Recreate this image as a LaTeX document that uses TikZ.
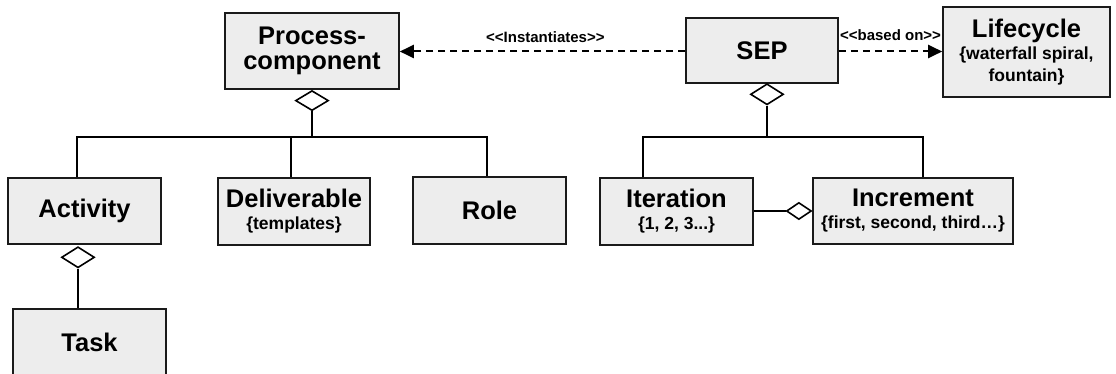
\documentclass[tikz,border=0pt]{standalone}
\usepackage{fontspec}
\setmainfont{Liberation Sans}
\usetikzlibrary{arrows.meta,shapes.geometric}
\definecolor{boxfill}{HTML}{EDEDED}
\definecolor{edge}{HTML}{1A1A1A}
\newcommand\ttl[1]{{\fontsize{25.5}{26}\selectfont #1}}
% keep the doubled angle brackets from turning into guillemets
\newcommand\lguil{<\kern0pt<}
\newcommand\rguil{>\kern0pt>}
\begin{document}
\begin{tikzpicture}[x=1pt,y=-1pt,
  box/.style={draw=edge, line width=1.6pt, fill=boxfill, inner sep=0pt,
    align=center, font=\fontsize{17.5}{22}\selectfont\bfseries},
  conn/.style={draw=black, line width=2pt},
  dep/.style={draw=black, line width=2pt, dash pattern=on 7pt off 5pt,
    -{Triangle[length=14pt,width=13pt]}},
  agg/.style={diamond, draw=black, fill=white, line width=1.6pt, inner sep=0pt,
    minimum width=33pt, minimum height=20pt},
  lbl/.style={font=\fontsize{15}{16}\selectfont\bfseries, inner sep=0pt}]
\useasboundingbox (0,0) rectangle (1116,374);

% classes
\node[box, minimum width=174pt, minimum height=76pt,
  font=\fontsize{25.5}{25.5}\selectfont\bfseries] (pc) at (312,51) {Process-\\component};
\node[box, minimum width=152pt, minimum height=65pt] (sep) at (762,50.5) {\ttl{SEP}};
\node[box, minimum width=167pt, minimum height=90pt] (life) at (1026.5,52)
  {\ttl{Lifecycle}\\\{waterfall spiral,\\fountain\}};
\node[box, minimum width=153pt, minimum height=66pt] (act) at (84.5,211) {\ttl{Activity}};
\node[box, minimum width=152pt, minimum height=67pt] (del) at (294,211.5)
  {\ttl{Deliverable}\\\{templates\}};
\node[box, minimum width=153pt, minimum height=67pt] (role) at (489.5,210.5) {\ttl{Role}};
\node[box, minimum width=153pt, minimum height=66pt] (task) at (89.5,342) {\ttl{Task}};
\node[box, minimum width=153pt, minimum height=67pt] (iter) at (676.5,211.5)
  {\ttl{Iteration}\\\{1, 2, 3...\}};
\node[box, minimum width=200pt, minimum height=66pt] (incr) at (913,211)
  {\ttl{Increment}\\\{first, second, third\ldots\}};

% aggregation diamonds
\node[agg, anchor=north] (dpc) at (pc.south) {};
\node[agg, anchor=north, minimum height=21pt] (dsep) at (767,83) {};
\node[agg, anchor=north, minimum height=21pt] (dact) at (78,246) {};
\node[agg, anchor=east, minimum width=25pt, minimum height=17pt] (dinc) at (incr.west |- 0,211) {};

% tree junctions
\coordinate (jpc) at (312,137);
\coordinate (ja) at (77,137);
\coordinate (jd) at (291,137);
\coordinate (jr) at (487,137);
\coordinate (jsep) at (767,137);
\coordinate (ji) at (643,137);
\coordinate (jn) at (923,137);

% process-component composition
\draw[conn] (dpc.south) -- (jpc);
\draw[conn] (ja |- act.north) -- (ja) -- (jr) -- (jr |- role.north);
\draw[conn] (jd) -- (jd |- del.north);

% SEP composition
\draw[conn] (dsep.south) -- (jsep);
\draw[conn] (ji |- iter.north) -- (ji) -- (jn) -- (jn |- incr.north);

% activity to task
\draw[conn] (dact.south) -- (dact.south |- task.north);

% iteration to increment
\draw[conn] (iter.east |- dinc.west) -- (dinc.west);

% dependencies
\draw[dep] (sep.west |- 0,51.5) -- (pc.east |- 0,51.5)
  node[lbl, pos=0.49, above=8pt] {\lguil Instantiates\rguil};
\draw[dep] (sep.east |- 0,51.5) -- (life.west |- 0,51.5)
  node[lbl, midway, above=10pt] {\lguil based on\rguil};
\end{tikzpicture}
\end{document}
